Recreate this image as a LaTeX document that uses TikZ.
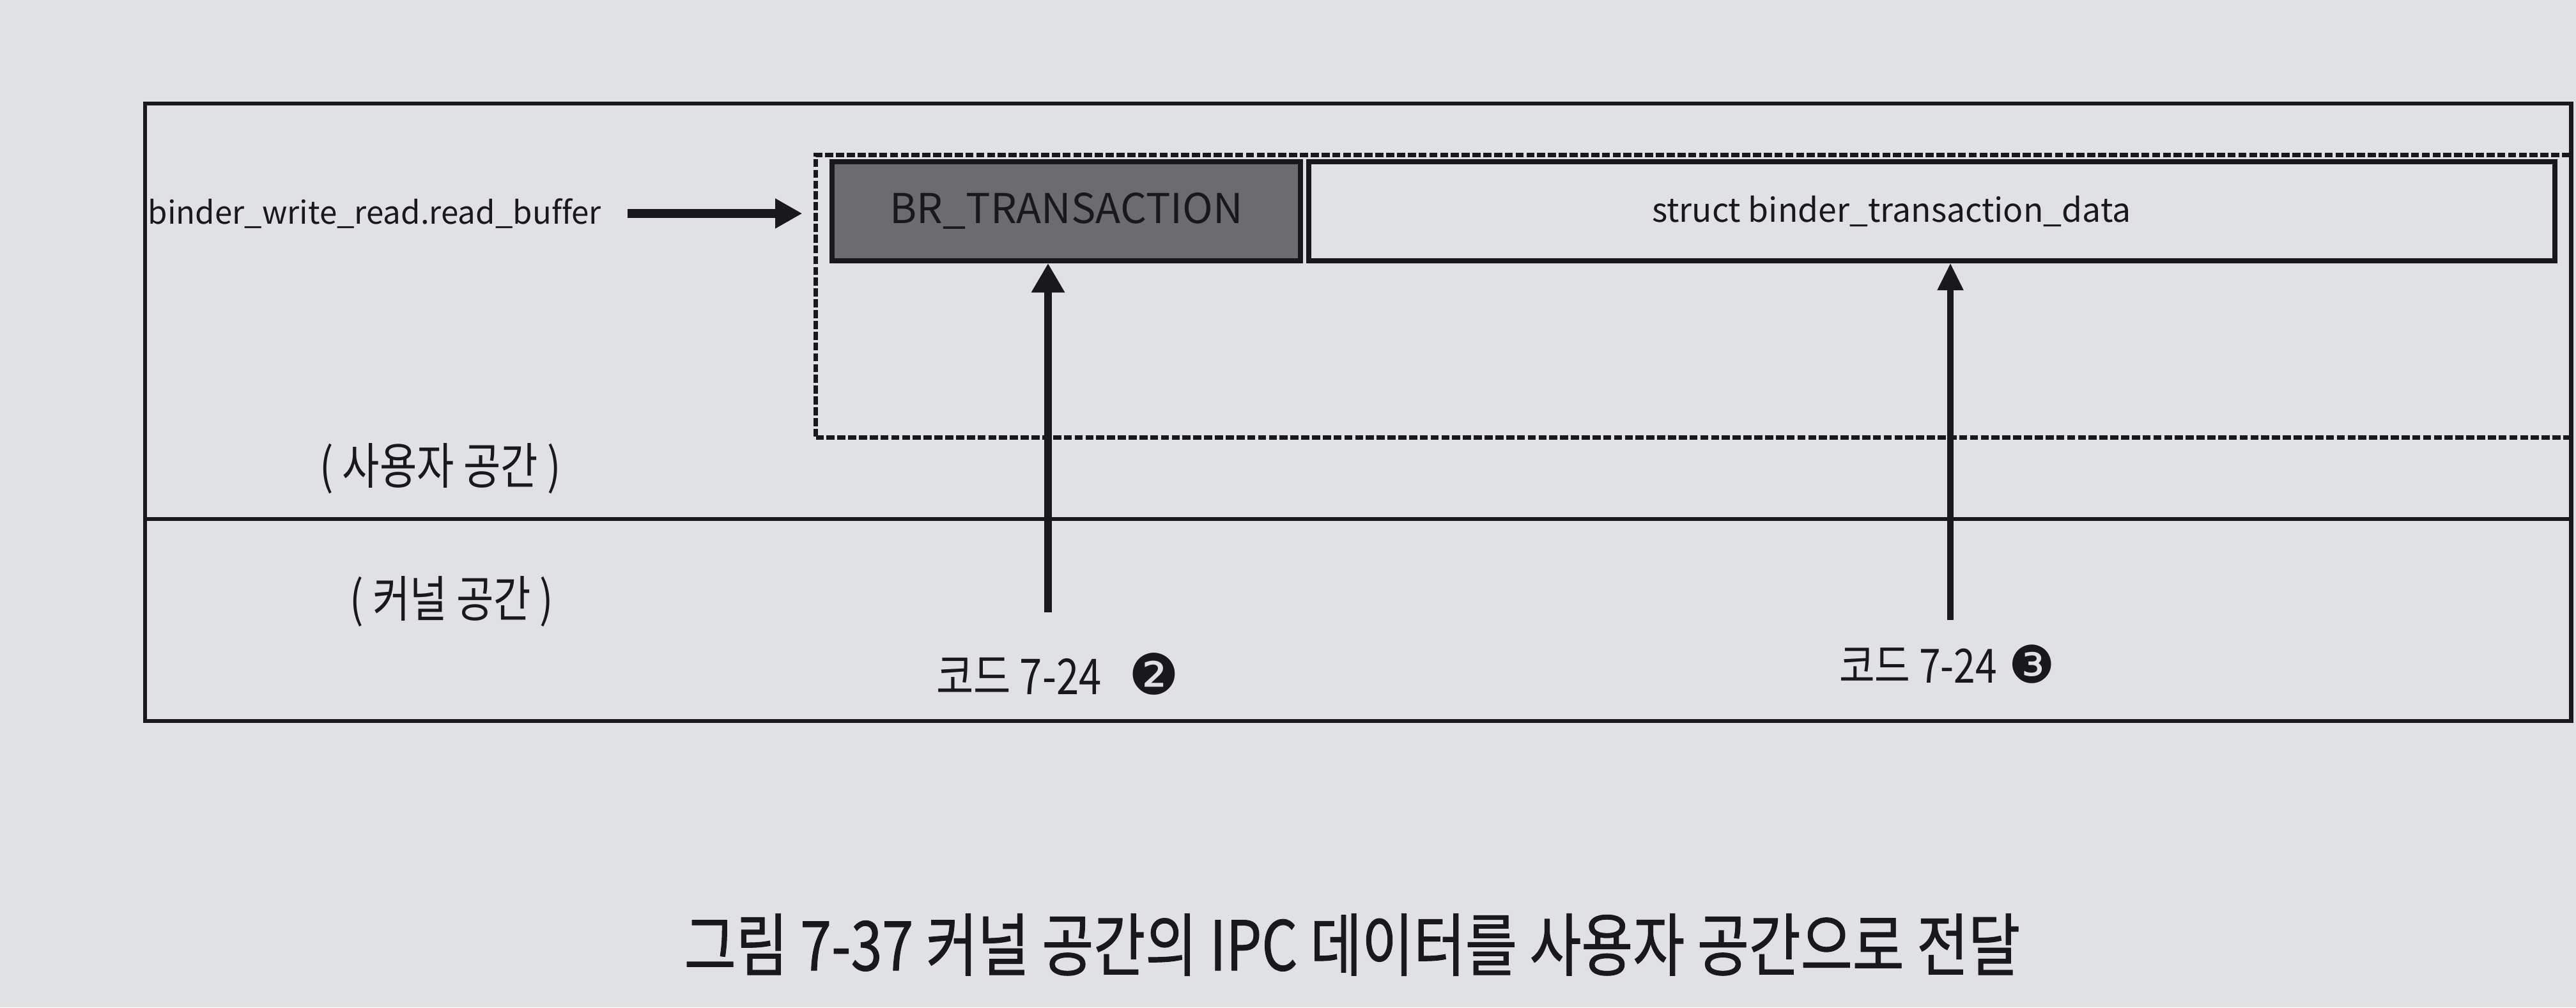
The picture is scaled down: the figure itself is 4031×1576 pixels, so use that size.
\documentclass[tikz,border=0pt]{standalone}
\usepackage{fontspec}
\setmainfont[Ligatures=NoCommon]{Noto Sans CJK KR}
\newfontfamily\kr[FakeStretch=0.82]{Noto Sans CJK KR}
\newfontfamily\krcap[FakeStretch=0.82,FakeBold=0.9]{Noto Sans CJK KR}
\newfontfamily\dingfont{DejaVu Sans}
\usetikzlibrary{arrows.meta}
\definecolor{paper}{RGB}{224,225,227}
\definecolor{ink}{RGB}{25,25,27}
\definecolor{brfill}{RGB}{108,108,110}
\begin{document}
\begin{tikzpicture}[x=0.01cm,y=-0.01cm,
  frameline/.style={draw=ink,line width=1.8pt},
  dashline/.style={draw=ink,line width=2pt,dash pattern=on 3.6pt off 1.2pt},
  cell/.style={draw=ink,line width=2.2pt,inner sep=0pt,anchor=north west,text=ink},
  lbl/.style={inner sep=0pt,text=ink},
  harrow/.style={draw=ink,line width=3.8pt,-{Triangle[width=12.5pt,length=12pt]}},
]
\fill[paper] (0,0) rectangle (4031,1576);
\useasboundingbox (0,0) rectangle (4031,1576);

% outer frame
\node[frameline, rectangle, inner sep=0pt, anchor=north west,
      minimum width=37.94cm, minimum height=9.65cm] (frame) at (224,159) {};
% user buffer (dashed)
\node[dashline, rectangle, inner sep=0pt, anchor=north west,
      minimum width=27.45cm, minimum height=4.42cm] (dbox) at (1273,239) {};
% user / kernel divider
\coordinate (div) at (0,812);
\draw[frameline] (frame.west |- div) -- (frame.east |- div);

% buffer cells
\node[cell, fill=brfill, minimum width=7.33cm, minimum height=1.55cm,
      font=\fontsize{18.3}{22}\selectfont] (br) at (1298,249) {BR\_TRANSACTION};
\node[cell, minimum width=19.49cm, minimum height=1.55cm,
      font=\fontsize{14.7}{18}\selectfont] (sd) at (2044,249)
      {struct binder\_transaction\_data\hspace*{36pt}};

% left label and arrow
\node[lbl, anchor=west, font=\fontsize{14}{17}\selectfont] (rb) at (231,334) {binder\_write\_read.read\_buffer};
\coordinate (hs) at ([xshift=11.5pt]rb.east);
\draw[harrow, shorten >=5pt] (hs) -- (hs -| dbox.west);

% space labels
\node[lbl, font=\kr\fontsize{22}{26}\selectfont] (us) at (689,733) {( 사용자 공간 )};
\node[lbl, font=\kr\fontsize{22}{26}\selectfont] (ks) at (707,941) {( 커널 공간 )};

% code labels
\node[lbl, font=\kr\fontsize{22}{26}\selectfont] (c2) at (1655,1054)
  {코드 7-24\hspace{0.55em}{\dingfont\fontsize{25}{25}\selectfont ❷}};
\node[lbl, font=\kr\fontsize{21}{25}\selectfont] (c3) at (3047,1039)
  {코드 7-24\hspace{0.25em}{\dingfont\fontsize{23}{23}\selectfont ❸}};

% vertical arrows
\coordinate (v1) at (1640,958);
\draw[draw=ink,line width=3.6pt,-{Triangle[width=14pt,length=13pt]}] (v1) -- (v1 |- br.south);
\coordinate (v2) at (3052,970);
\draw[draw=ink,line width=2.6pt,-{Triangle[width=11pt,length=12pt]}] (v2) -- (v2 |- sd.south);

% caption
\node[lbl, font=\krcap\fontsize{30.5}{36}\selectfont] (cap) at (2116,1478)
  {그림 7-37 커널 공간의 IPC 데이터를 사용자 공간으로 전달};
\end{tikzpicture}
\end{document}
